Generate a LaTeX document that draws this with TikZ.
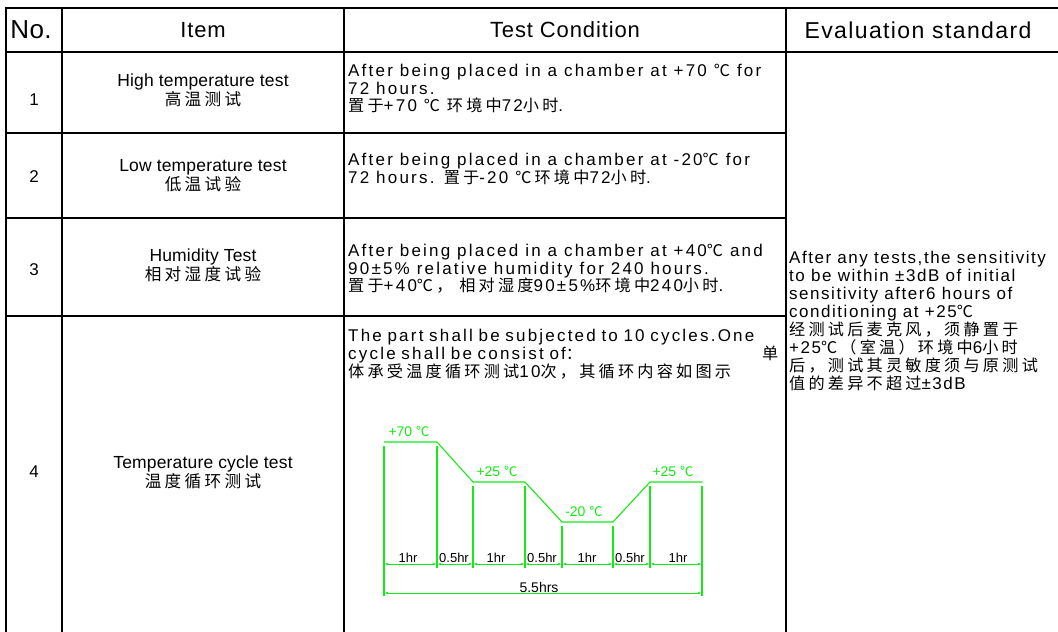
\documentclass[tikz,border=0pt]{standalone}
\usepackage{fontspec}
\usetikzlibrary{arrows.meta}
\setmainfont{Liberation Sans}[LetterSpace=10]
\newfontfamily\cjk{Noto Sans CJK SC}[LetterSpace=20, Scale=0.95]
\newfontfamily\plainfont{Liberation Sans}
\newcommand\zh[1]{{\cjk #1}}
\definecolor{cyclegreen}{RGB}{20,235,20}

\begin{document}
\begin{tikzpicture}[x=1pt, y=-1pt,
    rule/.style={line width=2pt},
    cell/.style={inner sep=0pt, font=\fontsize{17}{17}\selectfont},
    head/.style={inner sep=0pt, font=\addfontfeature{LetterSpace=4}\fontsize{22}{24}\selectfont},
    item/.style={cell, align=center, font=\addfontfeature{LetterSpace=1}\fontsize{17.5}{19}\selectfont},
    note/.style={cell, align=left, anchor=west, font=\addfontfeature{LetterSpace=13}\fontsize{17}{17.5}\selectfont},
    eval/.style={cell, align=left, anchor=west, font=\addfontfeature{LetterSpace=9}\fontsize{17}{18}\selectfont},
    curve/.style={draw=cyclegreen, line width=1.1pt},
    dim/.style={draw=cyclegreen, line width=0.9pt,
                {Latex[length=4pt,width=2.4pt]}-{Latex[length=4pt,width=2.4pt]}},
    temp/.style={text=cyclegreen, inner sep=0pt, font=\plainfont\fontsize{14}{14}\selectfont},
    span/.style={inner sep=0pt, font=\plainfont\fontsize{13}{13}\selectfont}]

  \useasboundingbox (0,0) rectangle (1058,632);

  % table rules
  \draw[rule] (5,8) -- (1058,8);
  \draw[rule] (5,52) -- (1058,52);
  \foreach \y in {133,218,316}
    \draw[rule] (6,\y) -- (786,\y);
  \foreach \x in {6,62,344,786}
    \draw[rule] (\x,7) -- (\x,632);

  % header
  \node[head, font=\addfontfeature{LetterSpace=2}\fontsize{26}{28}\selectfont] (hno) at (31,30) {No.};
  \node[head] (hitem) at (203,30) {Item};
  \node[head] (hcond) at (565,30) {Test Condition};
  \node[head, font=\addfontfeature{LetterSpace=6}\fontsize{23}{24}\selectfont] (heval) at (918,30) {Evaluation standard};

  % numbers
  \node[cell] (n1) at (34,100) {1};
  \node[cell] (n2) at (34,177) {2};
  \node[cell] (n3) at (34,270) {3};
  \node[cell] (n4) at (34,472) {4};

  % items
  \node[item] (i1) at (203,90)  {High temperature test\\\zh{高温测试}};
  \node[item] (i2) at (203,176) {Low temperature test\\\zh{低温试验}};
  \node[item] (i3) at (203,265) {Humidity Test\\\zh{相对湿度试验}};
  \node[item] (i4) at (203,472) {Temperature cycle test\\\zh{温度循环测试}};

  % test conditions
  \node[note] (c1) at (348,89)
    {After being placed in a chamber at +70 \zh{℃} for\\
     72 hours.\\
     \zh{置于}+70 \zh{℃ 环境中}72\zh{小时}.};
  \node[note] (c2) at (348,169)
    {After being placed in a chamber at -20\zh{℃} for\\
     72 hours. \zh{置于}-20 \zh{℃环境中}72\zh{小时}.};
  \node[note] (c3) at (348,269)
    {After being placed in a chamber at +40\zh{℃} and\\
     90±5\% relative humidity for 240 hours.\\
     \zh{置于}+40\zh{℃， 相对湿度}90±5\%\zh{环境中}240\zh{小时}.};
  \node[note, text width=430pt, font=\addfontfeature{LetterSpace=13}\fontsize{17}{18}\selectfont] (c4) at (348,354)
    {The part shall be subjected to 10 cycles.One\\
     cycle shall be consist of\zh{：}\hfill\zh{单}\\
     \zh{体承受温度循环测试}10\zh{次，其循环内容如图示}};

  % evaluation
  \node[eval] (ev) at (789,321)
    {After any tests,the sensitivity\\
     to be within ±3dB of initial\\
     sensitivity after6 hours of\\
     conditioning at +25\zh{℃}\\
     \zh{经测试后麦克风，须静置于}\\
     +25\zh{℃（室温）环境中}6\zh{小时}\\
     \zh{后，测试其灵敏度须与原测试}\\
     \zh{值的差异不超过}±3dB};

  % temperature cycle
  \coordinate (a0) at (384,442);
  \coordinate (b0) at (437,442);
  \coordinate (c0) at (473,482);
  \coordinate (d0) at (525,482);
  \coordinate (e0) at (562,522);
  \coordinate (f0) at (613,522);
  \coordinate (g0) at (650,482);
  \coordinate (h0) at (702,482);
  \draw[curve] (a0) -- (b0) -- (c0) -- (d0) -- (e0) -- (f0) -- (g0) -- (h0);

  \foreach \p in {a,b,c,d,e,f,g,h}
    \coordinate (\p1) at ([yshift=-4pt]\p0);
  \foreach \p in {b,c,d,e,f,g}
    \coordinate (\p2) at (\p0 |- 0,568);
  \coordinate (a2) at (a0 |- 0,596);
  \coordinate (h2) at (h0 |- 0,596);
  \foreach \p in {a,b,c,d,e,f,g,h}
    \draw[curve, draw=cyclegreen, line width=1.1pt] (\p1) -- (\p2);

  \foreach \p/\q in {a/b,b/c,c/d,d/e,e/f,f/g,g/h}
    \draw[dim] (\p0 |- 0,564) -- (\q0 |- 0,564);
  \draw[dim] (a0 |- 0,593) -- (h0 |- 0,593);

  \node[temp] (t1) at (409,432) {+70 \zh{℃}};
  \node[temp] (t2) at (497,472) {+25 \zh{℃}};
  \node[temp] (t3) at (584,512) {-20 \zh{℃}};
  \node[temp] (t4) at (673,472) {+25 \zh{℃}};

  \node[span] (s1) at (408,558) {1hr};
  \node[span] (s2) at (454,558) {0.5hr};
  \node[span] (s3) at (496,558) {1hr};
  \node[span] (s4) at (542,558) {0.5hr};
  \node[span] (s5) at (587,558) {1hr};
  \node[span] (s6) at (630,558) {0.5hr};
  \node[span] (s7) at (678,558) {1hr};
  \node[span, font=\plainfont\fontsize{14}{14}\selectfont] (s8) at (539,587) {5.5hrs};
\end{tikzpicture}
\end{document}
